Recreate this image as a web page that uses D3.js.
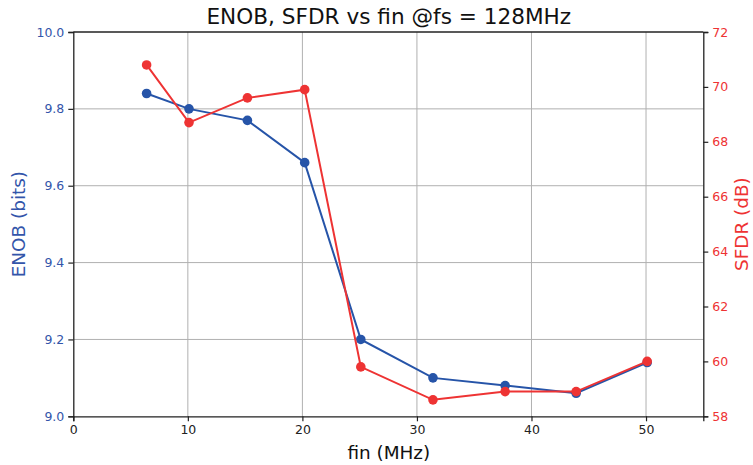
<!DOCTYPE html>
<html><head><meta charset="utf-8">
<script src="https://cdn.jsdelivr.net/npm/d3@7"></script>
<style>body{margin:0;background:#fff}svg{display:block;font-family:"DejaVu Sans",sans-serif}</style>
</head><body><svg id="c" width="753" height="465"></svg>
<script>
const fin = [6.4, 10.1, 15.2, 20.2, 25.1, 31.4, 37.7, 43.9, 50.1];
const enob = [9.84, 9.80, 9.77, 9.66, 9.20, 9.10, 9.08, 9.06, 9.14];
const sfdr = [70.8, 68.7, 69.6, 69.9, 59.8, 58.6, 58.9, 58.9, 60.0];
const xTicks = [0, 10, 20, 30, 40, 50];
const enobTicks = [9.0, 9.2, 9.4, 9.6, 9.8, 10.0];
const sfdrTicks = [58, 60, 62, 64, 66, 68, 70, 72];

const blue = "#2654a8", red = "#ee3333", blueTxt = "#3355aa", redTxt = "#ee3333";
const L = 73.3, R = 703.3, T = 32, B = 416.3;
const svg = d3.select("#c");
const x = d3.scaleLinear().domain([0, 55]).range([L, R]);
const yL = d3.scaleLinear().domain([9.0, 10.0]).range([B, T]);
const yR = d3.scaleLinear().domain([58, 72]).range([B, T]);

// grid
const g = svg.append("g");
g.selectAll("line.v").data(xTicks.filter(d => d > 0)).join("line")
  .attr("x1", d => x(d)).attr("x2", d => x(d)).attr("y1", T).attr("y2", B)
  .attr("stroke", "#b0b0b0").attr("stroke-width", 1);
g.selectAll("line.h").data(enobTicks.filter(d => d > 9.0 && d < 10.0)).join("line")
  .attr("x1", L).attr("x2", R).attr("y1", d => yL(d)).attr("y2", d => yL(d))
  .attr("stroke", "#b0b0b0").attr("stroke-width", 1);

// axes
const ax = svg.append("g").attr("transform", `translate(0,${B})`)
  .call(d3.axisBottom(x).tickValues(xTicks).tickFormat(d3.format("d")).tickSizeOuter(0).tickSize(5).tickPadding(4));
ax.selectAll("text").attr("fill", "#222").style("font-size", "12.5px");
const al = svg.append("g").attr("transform", `translate(${L},0)`)
  .call(d3.axisLeft(yL).tickValues(enobTicks).tickFormat(d3.format(".1f")).tickSizeOuter(0).tickSize(5).tickPadding(4));
al.selectAll("text").attr("fill", blueTxt).style("font-size", "12.5px");
const ar = svg.append("g").attr("transform", `translate(${R},0)`)
  .call(d3.axisRight(yR).tickValues(sfdrTicks).tickFormat(d3.format("d")).tickSizeOuter(0).tickSize(5).tickPadding(4));
ar.selectAll("text").attr("fill", redTxt).style("font-size", "12.5px");
[ax, al, ar].forEach(a => { a.attr("font-family", "DejaVu Sans"); a.selectAll("line").attr("stroke", "#222").attr("stroke-width", 1.2); a.select(".domain").attr("stroke", "#222").attr("stroke-width", 1.3); });
svg.append("line").attr("x1", L).attr("x2", R).attr("y1", T).attr("y2", T).attr("stroke", "#222").attr("stroke-width", 1.3);

// series
function drawSeries(vals, yS, color) {
  const pts = fin.map((f, i) => [x(f), yS(vals[i])]);
  svg.append("path").attr("d", d3.line()(pts)).attr("fill", "none").attr("stroke", color).attr("stroke-width", 2);
  svg.append("g").selectAll("circle").data(pts).join("circle")
    .attr("cx", d => d[0]).attr("cy", d => d[1]).attr("r", 4.8).attr("fill", color);
}
drawSeries(enob, yL, blue);
drawSeries(sfdr, yR, red);

// labels
svg.append("text").attr("x", (L + R) / 2 + 0.5).attr("y", 24).attr("text-anchor", "middle")
  .style("font-size", "21.6px").attr("fill", "#111").text("ENOB, SFDR vs fin @fs = 128MHz");
svg.append("text").attr("x", (L + R) / 2 + 0.5).attr("y", 459).attr("text-anchor", "middle")
  .style("font-size", "18.4px").attr("fill", "#111").text("fin (MHz)");
svg.append("text").attr("transform", `translate(24.5,${(T + B) / 2}) rotate(-90)`).attr("text-anchor", "middle")
  .style("font-size", "18.4px").attr("fill", blueTxt).text("ENOB (bits)");
svg.append("text").attr("transform", `translate(748,${(T + B) / 2}) rotate(-90)`).attr("text-anchor", "middle")
  .style("font-size", "18.4px").attr("fill", redTxt).text("SFDR (dB)");
</script></body></html>
